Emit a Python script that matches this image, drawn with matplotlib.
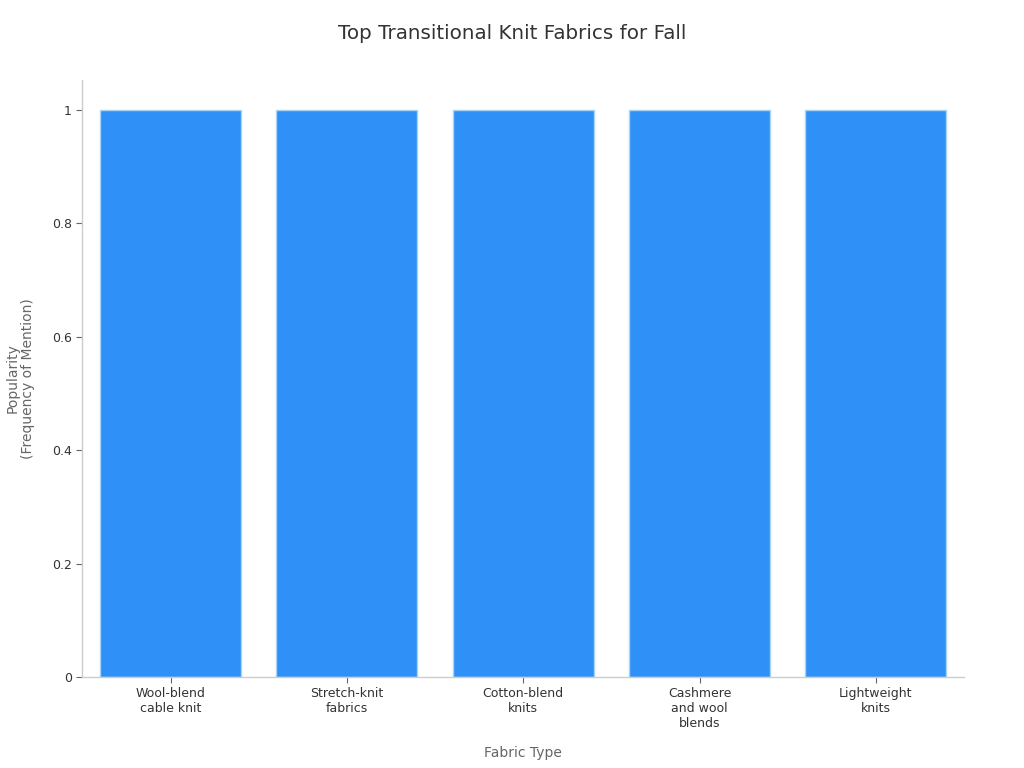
import numpy as np
import matplotlib
matplotlib.use('Agg')
import matplotlib.pyplot as plt

# Data
fabrics = ['Wool-blend\ncable knit', 'Stretch-knit\nfabrics', 'Cotton-blend\nknits',
           'Cashmere\nand wool\nblends', 'Lightweight\nknits']
popularity = [1, 1, 1, 1, 1]

plt.rcParams['font.family'] = ['DejaVu Sans']

fig = plt.figure(figsize=(10.24, 7.68), dpi=100)
ax = fig.add_axes([0.0805, 0.1185, 0.861, 0.7775])

x = np.arange(len(fabrics))
ax.bar(x, popularity, width=0.8, color='#2F90F8', edgecolor='#A8D4F5', linewidth=1)

ax.set_xlim(-0.5, len(fabrics) - 0.5)
ax.set_ylim(0, 1.053)
ax.set_xticks(x)
ax.set_xticklabels(fabrics, fontsize=9, color='#333333')
ax.set_yticks([0, 0.2, 0.4, 0.6, 0.8, 1])
ax.set_yticklabels(['0', '0.2', '0.4', '0.6', '0.8', '1'], fontsize=9, color='#333333')
ax.tick_params(axis='both', colors='#666666', labelcolor='#333333', length=4, width=0.8)

for side in ['top', 'right']:
    ax.spines[side].set_visible(False)
for side in ['left', 'bottom']:
    ax.spines[side].set_color('#cccccc')
    ax.spines[side].set_linewidth(1)

ax.set_xlabel('Fabric Type', fontsize=10, color='#666666', labelpad=11)
ax.set_ylabel('Popularity\n(Frequency of Mention)', fontsize=10, color='#666666', labelpad=12)
fig.text(0.5, 0.957, 'Top Transitional Knit Fabrics for Fall', fontsize=14.3,
         color='#333333', ha='center', va='center')

fig.savefig('out.png', dpi=100)
